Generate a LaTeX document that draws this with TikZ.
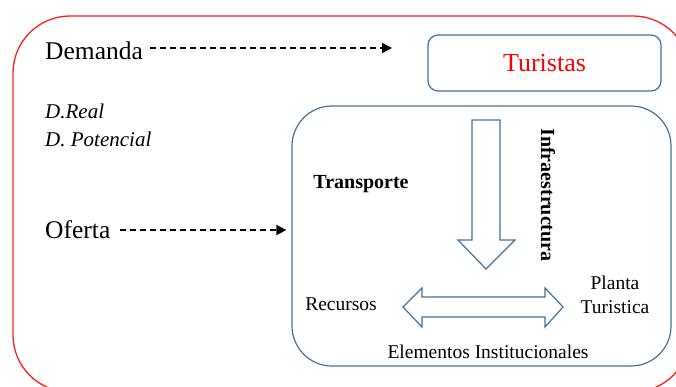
\documentclass[tikz,border=0pt]{standalone}
\usepackage{fontspec}
\setmainfont{Liberation Serif}
\usetikzlibrary{arrows.meta,positioning}

\definecolor{borde}{RGB}{255,30,30}
\definecolor{azul}{RGB}{65,113,156}

\begin{document}
\begin{tikzpicture}[%
    x=1pt, y=-1pt,                          % Work in pixels, top-down
    >={Triangle[length=10pt,width=10pt]},   % Solid heads for the dashed lines
    ]
% -------------------------------------------------
% A few styles
\tikzset{
  caja/.style={draw=azul, line width=1.2pt, rounded corners=10pt, inner sep=0pt},
  marco/.style={draw=borde, line width=1.3pt, rounded corners=57pt, inner sep=0pt},
  flecha/.style={draw=azul, line width=1.2pt, fill=white, line join=miter},
  punteada/.style={->, draw, line width=1.4pt, dash pattern=on 6pt off 4pt},
  grande/.style={font=\fontsize{25.5}{28}\selectfont, inner sep=0pt},
  cursiva/.style={font=\fontsize{21}{24}\selectfont\itshape, inner sep=0pt},
  chico/.style={font=\fontsize{19.5}{24}\selectfont, inner sep=0pt, align=center},
  negrita/.style={font=\fontsize{20}{24}\selectfont\bfseries, inner sep=0pt}
}
\useasboundingbox (0,0) rectangle (676,387);
\clip (0,0) rectangle (676,387);
% -------------------------------------------------
% Boxes
\node [marco, minimum width=677pt, minimum height=376pt] (entorno) at (351.5,204) {};
\node [caja, minimum width=233pt, minimum height=56pt,
       text=red, font=\fontsize{26}{28}\selectfont] (turistas) at (544.5,63) {Turistas};
\node [caja, rounded corners=40pt, minimum width=379pt, minimum height=260pt] (sistema) at (481.5,236) {};
% -------------------------------------------------
% Left column
\node [grande, anchor=west] (demanda) at (45,51) {Demanda};
\node [cursiva, anchor=west] (real) at (45,111) {D.Real};
\node [cursiva, below=13pt of real.south west, anchor=north west] (potencial) {D. Potencial};
\node [grande, anchor=west] (oferta) at (45,230) {Oferta};
% -------------------------------------------------
% Inside the system
\node [negrita] (transporte) at (361,184) {Transporte};
\node [negrita, rotate=-90] (infra) at (548,195) {Infraestructura};
\node [chico] (recursos) at (341,304) {Recursos};
\node [chico] (planta) at (615,295) {Planta\\Turistica};
\node [chico] (institucional) at (488,352) {Elementos Institucionales};
% -------------------------------------------------
% Block arrows
\draw [flecha] (472,120) -- (500,120) -- (500,240) -- (515,240) -- (486,269)
      -- (458,240) -- (472,240) -- cycle;
\draw [flecha] (403,307) -- (422,288) -- (422,297) -- (545,297) -- (545,288)
      -- (563,307) -- (545,327) -- (545,317) -- (422,317) -- (422,327) -- cycle;
% -------------------------------------------------
% Dashed connectors
\coordinate (demandafin) at (392,48);
\draw [punteada] ([xshift=7pt]demanda.east |- demandafin) -- (demandafin);
\draw [punteada, shorten >=5pt] ([xshift=9pt]oferta.east) -- (oferta.east -| sistema.west);
\end{tikzpicture}
\end{document}
